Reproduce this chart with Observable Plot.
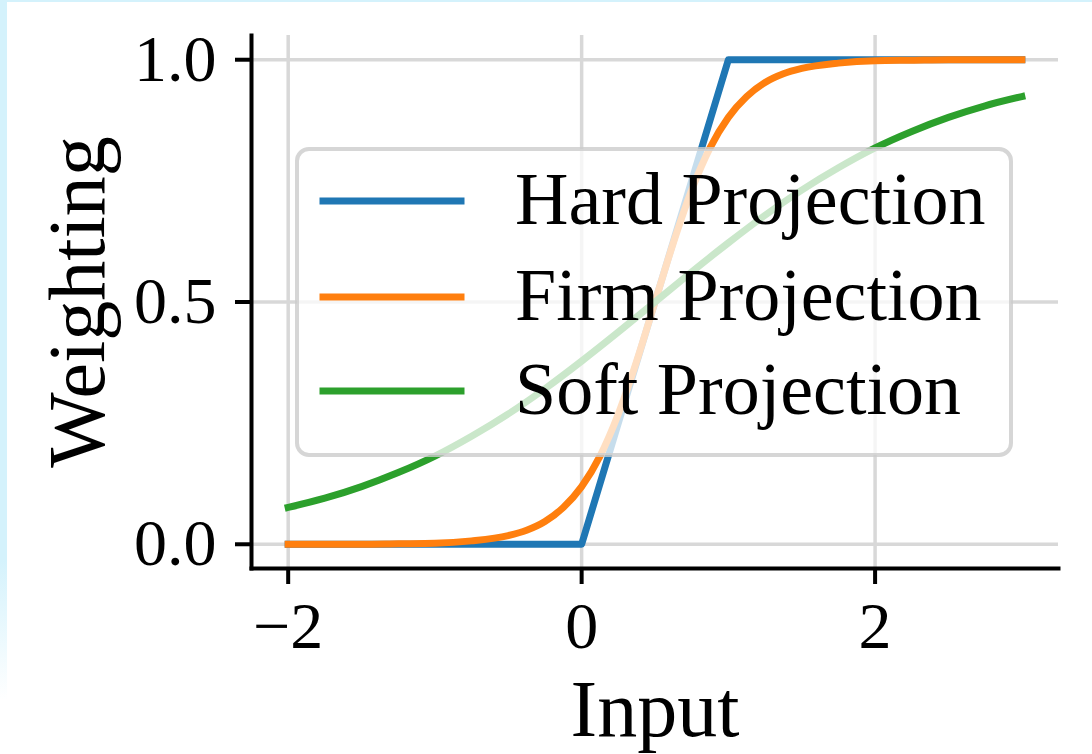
<!DOCTYPE html>
<html>
<head>
<meta charset="utf-8">
<script src="https://cdn.jsdelivr.net/npm/d3@7"></script>
<script src="https://cdn.jsdelivr.net/npm/@observablehq/plot@0.6"></script>
<style>
  html, body { margin: 0; padding: 0; background: #ffffff; }
  #wrap { position: relative; width: 1092px; height: 754px; overflow: hidden; background: #ffffff; }
  #stripL { position: absolute; left: 0; top: 0; width: 7px; height: 700px;
            background: linear-gradient(to bottom, #d4f2fc 80%, #ffffff 100%); z-index: 3; }
  #stripT { position: absolute; left: 0; top: 0; width: 1092px; height: 2px; background: #d4f2fc; z-index: 3; }
  #chart { position: absolute; left: 0; top: 0; }
  #legend { position: absolute; left: 0; top: 0; z-index: 2; }
</style>
</head>
<body>
<div id="wrap">
  <div id="chart"></div>
  <div id="legend"></div>
  <div id="stripL"></div>
  <div id="stripT"></div>
</div>
<script>
// ---- Data ----
const seriesNames = ["Hard Projection", "Firm Projection", "Soft Projection"];
const seriesColors = ["#1f77b4", "#ff7f0e", "#2ca02c"];

const xTicks = [-2, 0, 2];
const xTickLabels = ["\u22122", "0", "2"];
const yTicks = [0, 0.5, 1];
const yTickLabels = ["0.0", "0.5", "1.0"];

const hardX = [-2, 0, 1, 3];
const hardY = [0, 0, 1, 1];

const firmX = [-2, -1.75, -1.5, -1.25, -1, -0.75, -0.5, -0.375, -0.25, -0.125, 0, 0.125, 0.25, 0.375, 0.5,
               0.625, 0.75, 0.875, 1, 1.125, 1.25, 1.375, 1.5, 1.75, 2, 2.25, 2.5, 2.75, 3];
const firmY = [0.000, 0.000, 0.000, 0.001, 0.002, 0.007, 0.018, 0.029, 0.047, 0.076, 0.119, 0.182, 0.269, 0.378, 0.500,
               0.622, 0.731, 0.818, 0.881, 0.924, 0.953, 0.971, 0.982, 0.993, 0.998, 0.999, 1.000, 1.000, 1.000];

const softX = [-2, -1.75, -1.5, -1.25, -1, -0.75, -0.5, -0.25, 0, 0.25, 0.5, 0.75, 1, 1.25, 1.5, 1.75, 2, 2.25, 2.5, 2.75, 3];
const softY = [0.076, 0.095, 0.119, 0.148, 0.182, 0.223, 0.269, 0.321, 0.378, 0.438, 0.500, 0.562, 0.622, 0.679, 0.731, 0.777, 0.818, 0.852, 0.881, 0.905, 0.924];

const xLabel = "Input";
const yLabel = "Weighting";

// ---- Build tables ----
const hard = hardX.map((x, i) => ({x, y: hardY[i]}));
const firm = firmX.map((x, i) => ({x, y: firmY[i]}));
const soft = softX.map((x, i) => ({x, y: softY[i]}));

const FONT = "'Liberation Serif', 'Times New Roman', serif";
const LW = 7;
const AXW = 4;

const chart = Plot.plot({
  width: 1092,
  height: 754,
  marginLeft: 251,
  marginRight: 34,
  marginTop: 35,
  marginBottom: 186,
  x: {domain: [-2.25, 3.25]},
  y: {domain: [-0.05, 1.05]},
  style: {fontFamily: FONT, fontSize: "66px", color: "black", background: "transparent", overflow: "visible"},
  marks: [
    Plot.gridX(xTicks, {stroke: "#d8d8d8", strokeOpacity: 1, strokeWidth: 3.5}),
    Plot.gridY(yTicks, {stroke: "#d8d8d8", strokeOpacity: 1, strokeWidth: 3.5}),
    Plot.line(hard, {x: "x", y: "y", stroke: seriesColors[0], strokeWidth: LW, curve: "linear", strokeLinecap: "square", strokeLinejoin: "round"}),
    Plot.line(firm, {x: "x", y: "y", stroke: seriesColors[1], strokeWidth: LW, curve: "monotone-x", strokeLinecap: "square"}),
    Plot.line(soft, {x: "x", y: "y", stroke: seriesColors[2], strokeWidth: LW, curve: "monotone-x", strokeLinecap: "square"}),
    Plot.frame({anchor: "left", stroke: "black", strokeWidth: AXW}),
    Plot.frame({anchor: "bottom", stroke: "black", strokeWidth: AXW}),
    Plot.axisX(xTicks, {tickSize: 16, strokeWidth: AXW, tickPadding: 17, fontSize: 66, label: null,
                        tickFormat: (d) => xTickLabels[xTicks.indexOf(d)]}),
    Plot.axisY(yTicks, {tickSize: 16, strokeWidth: AXW, tickPadding: 19, fontSize: 66, label: null,
                        tickFormat: (d) => yTickLabels[yTicks.indexOf(d)]}),
    Plot.text([xLabel], {frameAnchor: "bottom", textAnchor: "middle", lineAnchor: "middle", dy: 142, fontSize: 80, text: (d) => d}),
    Plot.text([yLabel], {frameAnchor: "left", textAnchor: "middle", lineAnchor: "middle", dx: -173, rotate: -90, fontSize: 80, text: (d) => d})
  ]
});
document.getElementById("chart").appendChild(chart);

// ---- Legend overlay ----
const lg = d3.select("#legend").append("svg")
  .attr("width", 1092).attr("height", 754)
  .style("font-family", FONT);
const box = {x: 297, y: 149, w: 714, h: 306};
lg.append("rect")
  .attr("x", box.x).attr("y", box.y).attr("width", box.w).attr("height", box.h)
  .attr("rx", 12).attr("ry", 12)
  .attr("fill", "rgba(255,255,255,0.75)")
  .attr("stroke", "rgba(204,204,204,0.8)")
  .attr("stroke-width", 4);
const rowY = [201, 297, 391];
seriesNames.forEach((name, i) => {
  lg.append("line")
    .attr("x1", 323).attr("x2", 461)
    .attr("y1", rowY[i]).attr("y2", rowY[i])
    .attr("stroke", seriesColors[i]).attr("stroke-width", LW)
    .attr("stroke-linecap", "square");
  lg.append("text")
    .attr("x", 515).attr("y", rowY[i] + 23)
    .attr("font-size", 74)
    .attr("fill", "black")
    .text(name);
});
</script>
</body>
</html>
